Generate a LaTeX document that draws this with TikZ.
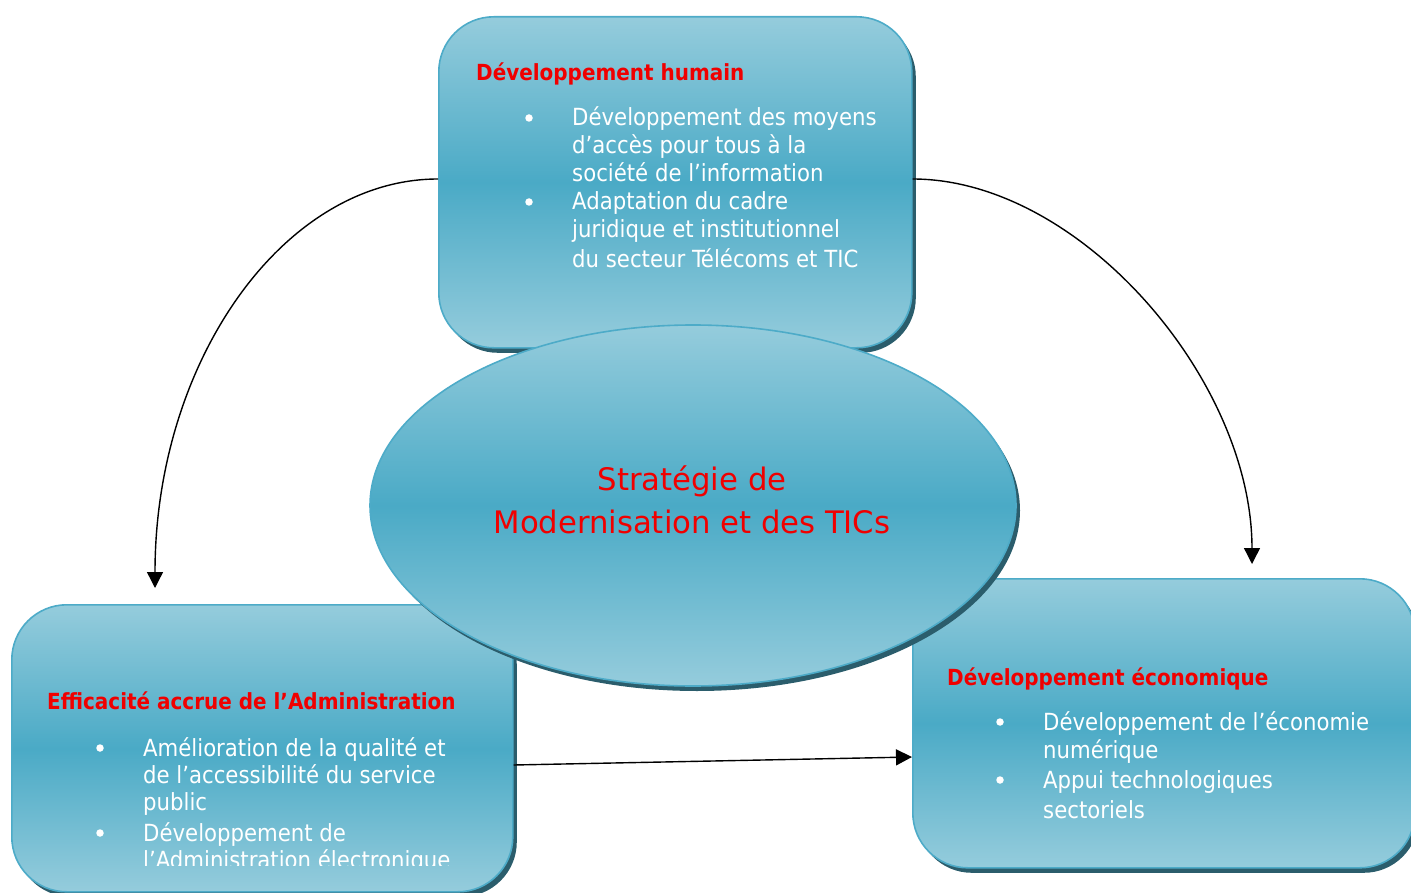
\documentclass[tikz,border=0pt]{standalone}
\usepackage{fontspec}
\setmainfont{DejaVu Sans Condensed}
\newfontfamily\centrefont[FakeStretch=1.1]{DejaVu Sans Condensed}
\usetikzlibrary{shadows,shapes.geometric,arrows.meta}
\definecolor{lightb}{HTML}{95CCDC}
\definecolor{darkb}{HTML}{4AAAC6}
\definecolor{edgeb}{HTML}{4DABC8}
\definecolor{shad}{HTML}{2B5D6C}
\definecolor{headred}{HTML}{F00000}
\begin{document}
\begin{tikzpicture}[x=1pt,y=-1pt,
  panel/.style={draw=edgeb, line width=1.6pt, top color=lightb, bottom color=lightb, middle color=darkb,
    drop shadow={shadow xshift=4pt, shadow yshift=-5pt, fill=shad, opacity=1}},
  boxpanel/.style={panel, rectangle, rounded corners=55pt, anchor=north west, inner sep=0pt},
  body/.style={anchor=base west, inner sep=0pt, text=white, font=\fontsize{23.6}{28}\selectfont},
  head/.style={anchor=base west, inner sep=0pt, text=headred, font=\bfseries\fontsize{22.2}{26}\selectfont},
  centre/.style={anchor=base, inner sep=0pt, text=headred, font=\centrefont\fontsize{31}{36}\selectfont},
  bul/.style={circle, fill=white, inner sep=0pt, minimum size=7.5pt},
  conn/.style={line width=1.4pt, -{Triangle[length=16pt,width=16pt]}}
]
\clip (0,0) rectangle (1411,893);
% boxes
\node[boxpanel, minimum width=473pt, minimum height=331pt] (hum) at (438,16) {};
\node[boxpanel, minimum width=501pt, minimum height=287pt] (adm) at (11,604) {};
\node[boxpanel, minimum width=502pt, minimum height=289pt] (eco) at (912,578) {};
% central ellipse
\node[panel, ellipse, minimum width=646pt, minimum height=361pt, inner sep=0pt] (strat) at (693,505.5) {};

% top box text
\node[head] (h1) at (476,81) {Développement humain};
\node[bul] (b11) at (529,118) {};
\node[body] (t11) at (572,126) {Développement des moyens};
\node[body] (t12) at (572,154) {d’accès pour tous à la};
\node[body] (t13) at (572,182) {société de l’information};
\node[bul] (b12) at (529,202) {};
\node[body] (t14) at (572,210) {Adaptation du cadre};
\node[body] (t15) at (572,238) {juridique et institutionnel};
\node[body] (t16) at (572,268) {du secteur Télécoms et TIC};

% centre text
\node[centre] (c1) at (692,490) {Stratégie de};
\node[centre] (c2) at (692,533) {Modernisation et des TICs};

% left box text
\begin{scope}
\clip (0,590) rectangle (520,865);
\node[head] (h2) at (47,709) {Efficacité accrue de l’Administration};
\node[bul] (b21) at (100,748) {};
\node[body] (t21) at (143,756) {Amélioration de la qualité et};
\node[body] (t22) at (143,783) {de l’accessibilité du service};
\node[body] (t23) at (143,810) {public};
\node[bul] (b22) at (100,833) {};
\node[body] (t24) at (143,841) {Développement de};
\node[body] (t25) at (143,868) {l’Administration électronique};
\end{scope}

% right box text
\node[head] (h3) at (947,685) {Développement économique};
\node[bul] (b31) at (1000,722) {};
\node[body] (t31) at (1043,730) {Développement de l’économie};
\node[body] (t32) at (1043,758) {numérique};
\node[bul] (b32) at (1000,780) {};
\node[body] (t33) at (1043,788) {Appui technologiques};
\node[body] (t34) at (1043,818) {sectoriels};

% connectors
\coordinate (endL) at (155,588);
\coordinate (endR) at (1252,564);
\draw[conn] (hum.west |- 0,179) .. controls (283,179) and (155,362) .. (endL);
\draw[conn] (hum.east |- 0,179) .. controls (1080,179) and (1252,380) .. (endR);
\draw[conn] (adm.east |- 0,765) -- (eco.west |- 0,757);
\end{tikzpicture}
\end{document}
